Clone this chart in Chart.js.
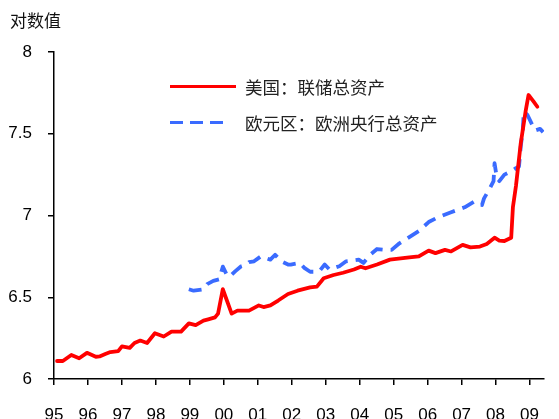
<!DOCTYPE html>
<html>
<head>
<meta charset="utf-8">
<script src="https://cdn.jsdelivr.net/npm/chart.js@4"></script>
<style>
html,body{margin:0;padding:0;background:#fff;}
#wrap{width:559px;height:419px;position:relative;}
</style>
</head>
<body>
<div id="wrap"><canvas id="c" width="559" height="419"></canvas></div>
<script>
// US: Fed total assets (log) — decimal year / value
const usYears = [1995.09,1995.26,1995.51,1995.74,1995.97,1996.23,1996.34,1996.51,1996.66,1996.89,1997.0,1997.23,1997.37,1997.54,1997.74,1997.97,1998.23,1998.46,1998.74,1998.97,1999.17,1999.4,1999.54,1999.74,1999.83,1999.97,2000.23,2000.4,2000.74,2001.03,2001.17,2001.37,2001.6,2001.89,2002.17,2002.54,2002.74,2002.94,2003.23,2003.51,2003.83,2004.03,2004.17,2004.51,2004.89,2005.46,2005.74,2006.03,2006.23,2006.51,2006.69,2007.03,2007.26,2007.54,2007.74,2007.97,2008.11,2008.26,2008.46,2008.51,2008.6,2008.74,2008.89,2008.97,2009.11,2009.23];
const usValues = [6.11,6.11,6.147,6.127,6.16,6.136,6.138,6.153,6.165,6.17,6.20,6.19,6.22,6.235,6.22,6.28,6.26,6.29,6.29,6.34,6.33,6.357,6.365,6.377,6.40,6.549,6.40,6.418,6.418,6.45,6.44,6.45,6.48,6.52,6.54,6.56,6.565,6.616,6.636,6.65,6.67,6.687,6.677,6.70,6.73,6.744,6.75,6.785,6.77,6.79,6.78,6.82,6.805,6.81,6.826,6.864,6.846,6.844,6.864,7.05,7.18,7.44,7.645,7.737,7.70,7.665];
// Euro area: ECB total assets (log)
const euYears = [1998.97,1999.11,1999.4,1999.51,1999.69,1999.86,1999.97,2000.09,2000.17,2000.34,2000.51,2000.66,2000.74,2000.89,2001.09,2001.23,2001.37,2001.51,2001.69,2001.89,2001.97,2002.23,2002.37,2002.54,2002.8,2002.97,2003.11,2003.4,2003.6,2003.8,2003.97,2004.11,2004.31,2004.51,2004.74,2004.94,2005.17,2005.4,2005.74,2006.03,2006.31,2006.69,2007.09,2007.37,2007.6,2007.66,2007.83,2007.94,2007.97,2008.03,2008.11,2008.26,2008.46,2008.6,2008.69,2008.74,2008.8,2008.83,2008.94,2009.09,2009.17,2009.31,2009.4];
const euValues = [6.549,6.54,6.549,6.58,6.60,6.61,6.687,6.636,6.626,6.66,6.69,6.70,6.715,6.72,6.75,6.74,6.73,6.76,6.72,6.70,6.70,6.71,6.68,6.656,6.656,6.70,6.67,6.69,6.72,6.725,6.73,6.71,6.76,6.795,6.79,6.79,6.83,6.86,6.905,6.96,6.99,7.02,7.05,7.085,7.064,7.105,7.166,7.21,7.32,7.24,7.21,7.25,7.27,7.29,7.30,7.42,7.52,7.635,7.615,7.55,7.52,7.53,7.51];
const xTickYears = [1995,1996,1997,1998,1999,2000,2001,2002,2003,2004,2005,2006,2007,2008,2009];
const xTickLabels = ['95','96','97','98','99','00','01','02','03','04','05','06','07','08','09'];
const yTicks = [6,6.5,7,7.5,8];
const seriesNames = ['美国：联储总资产','欧元区：欧洲央行总资产'];
const yTitle = '对数值';

const RED = '#FF0000', BLUE = '#3A6BFF';
const CJK = '"Noto Sans CJK SC", "Noto Sans", sans-serif';

const toPts = (xs, ys) => xs.map((x, i) => ({x, y: ys[i]}));

const overlay = {
  id: 'overlay',
  afterDraw(chart) {
    const ctx = chart.ctx;
    ctx.save();
    ctx.fillStyle = '#111';
    ctx.font = '17px ' + CJK;
    ctx.textBaseline = 'middle';
    ctx.textAlign = 'left';
    ctx.fillText(yTitle, 10, 21);
    // legend
    ctx.lineCap = 'butt';
    ctx.lineWidth = 3;
    ctx.strokeStyle = RED;
    ctx.beginPath(); ctx.moveTo(170, 86.5); ctx.lineTo(236, 86.5); ctx.stroke();
    ctx.strokeStyle = BLUE;
    ctx.setLineDash([13, 7]);
    ctx.beginPath(); ctx.moveTo(170, 122.5); ctx.lineTo(230, 122.5); ctx.stroke();
    ctx.setLineDash([]);
    ctx.font = '17.5px ' + CJK;
    ctx.fillStyle = '#222';
    ctx.fillText(seriesNames[0], 245, 87);
    ctx.fillText(seriesNames[1], 245, 123);
    ctx.restore();
  }
};

new Chart(document.getElementById('c'), {
  type: 'line',
  data: {
    datasets: [
      {label: seriesNames[0], data: toPts(usYears, usValues), borderColor: RED, borderWidth: 3.8,
       pointRadius: 0, tension: 0, fill: false, borderJoinStyle: 'round', borderCapStyle: 'round'},
      {label: seriesNames[1], data: toPts(euYears, euValues), borderColor: BLUE, borderWidth: 3.8,
       borderDash: [13, 8], pointRadius: 0, tension: 0, fill: false, borderJoinStyle: 'round'}
    ]
  },
  options: {
    responsive: false,
    animation: false,
    devicePixelRatio: 1,
    layout: {padding: {top: 52, left: 0, right: 0, bottom: 0}},
    plugins: {legend: {display: false}, tooltip: {enabled: false}, title: {display: false}},
    scales: {
      x: {
        type: 'linear',
        min: 1995,
        max: 2009.43,
        afterBuildTicks: (s) => { s.ticks = xTickYears.map(v => ({value: v})); },
        afterFit: (s) => { s.height = 40; },
        grid: {display: true, drawOnChartArea: false, drawTicks: true, tickLength: 6, color: '#000', lineWidth: 1.5},
        border: {display: true, color: '#000', width: 1.5},
        ticks: {
          autoSkip: false, maxRotation: 0, padding: 20, color: '#000',
          font: {family: '"Liberation Sans", Arial, sans-serif', size: 17},
          callback: (v) => { const i = xTickYears.indexOf(v); return i >= 0 ? xTickLabels[i] : ''; }
        }
      },
      y: {
        type: 'linear',
        min: 6,
        max: 8,
        afterBuildTicks: (s) => { s.ticks = yTicks.map(v => ({value: v})); },
        afterFit: (s) => { s.width = 54; },
        grid: {display: true, drawOnChartArea: false, drawTicks: true, tickLength: 6, color: '#000', lineWidth: 1.5},
        border: {display: true, color: '#000', width: 1.5},
        ticks: {
          padding: 16, color: '#000',
          font: {family: '"Liberation Sans", Arial, sans-serif', size: 17},
          callback: (v) => String(v)
        }
      }
    }
  },
  plugins: [overlay]
});
</script>
</body>
</html>
